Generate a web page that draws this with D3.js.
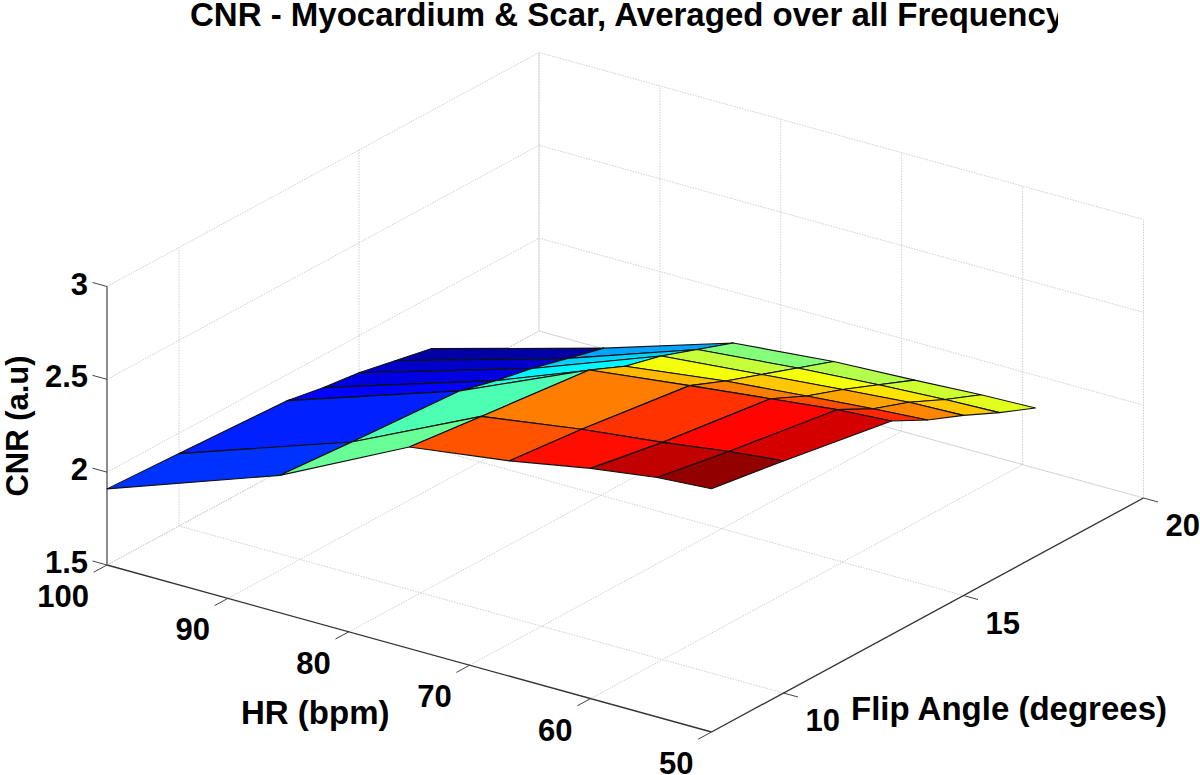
<!DOCTYPE html>
<html>
<head>
<meta charset="utf-8">
<title>CNR surface</title>
<script src="https://cdn.jsdelivr.net/npm/d3@7"></script>
<style>
    html, body { margin: 0; padding: 0; background: #fff; }
    svg { display: block; }
    text { font-family: "Liberation Sans", Arial, sans-serif; font-weight: bold; fill: #000; }
</style>
</head>
<body>
<div id="container"></div>
<script>
//surface grid, one row of cnr per heart rate
var heartRates = [100, 85.7, 75, 66.7, 60, 54.5, 50];
var flipAngles = [8, 10, 13, 14, 15, 16, 17];
var cnr = [
    [1.91, 1.89, 1.86, 1.825, 1.80, 1.76, 1.72],
    [2.24, 2.21, 2.17, 2.12, 2.08, 2.03, 1.98],
    [2.585, 2.54, 2.475, 2.39, 2.34, 2.27, 2.20],
    [2.66, 2.62, 2.54, 2.46, 2.39, 2.32, 2.25],
    [2.74, 2.67, 2.59, 2.50, 2.43, 2.35, 2.27],
    [2.79, 2.72, 2.63, 2.53, 2.46, 2.37, 2.29],
    [2.81, 2.75, 2.65, 2.55, 2.47, 2.38, 2.30]
];

//tick labels
var hrTicks = [100, 90, 80, 70, 60, 50];
var flipTicks = [10, 15, 20];
var zTicks = [1.5, 2, 2.5, 3];

var title = 'CNR - Myocardium & Scar, Averaged over all Frequency';

//Width and height
var w = 1200;
var h = 775;

//orthographic view: each data axis moves the pixel along its own screen direction
var originX = 107;
var originY = 565;
var hrToX = d3.scaleLinear().domain([100, 50]).range([0, 604.5]);
var hrToY = d3.scaleLinear().domain([100, 50]).range([0, 167]);
var flipToX = d3.scaleLinear().domain([8, 20]).range([0, 432]);
var flipToY = d3.scaleLinear().domain([8, 20]).range([0, -234]);
var zToY = d3.scaleLinear().domain([1.5, 3]).range([0, -278.5]);

function project(hr, flip, z) {
    return [
        originX + hrToX(hr) + flipToX(flip),
        originY + hrToY(hr) + flipToY(flip) + zToY(z)
    ];
}

//jet colormap stretched over the data range
var cnrRange = d3.extent(d3.merge(cnr));
var toUnit = d3.scaleLinear().domain(cnrRange).range([0, 1]);
var jet = d3.scaleLinear()
    .domain([0, 0.125, 0.375, 0.625, 0.875, 1])
    .range(['#000080', '#0000ff', '#00ffff', '#ffff00', '#ff0000', '#800000']);

var svg = d3.select('#container')
    .append('svg')
    .attr('width', w)
    .attr('height', h);

var line = d3.line();

//grid lines on the floor and the two back walls
var gridLines = [];
zTicks.forEach(function(z) {
    gridLines.push([project(100, 8, z), project(100, 20, z), project(50, 20, z)]);
});
hrTicks.forEach(function(hr) {
    gridLines.push([project(hr, 8, 1.5), project(hr, 20, 1.5), project(hr, 20, 3)]);
});
flipTicks.forEach(function(flip) {
    gridLines.push([project(50, flip, 1.5), project(100, flip, 1.5), project(100, flip, 3)]);
});

svg.append('g')
    .selectAll('path')
    .data(gridLines)
    .enter()
    .append('path')
    .attr('d', line)
    .attr('fill', 'none')
    .attr('stroke', '#cfcfcf')
    .attr('stroke-width', 1)
    .attr('stroke-dasharray', '1.5,1.2');

//axis lines
var axisLines = [
    [project(100, 8, 1.5), project(50, 8, 1.5)],
    [project(50, 8, 1.5), project(50, 20, 1.5)]
];
svg.append('g')
    .selectAll('path')
    .data(axisLines)
    .enter()
    .append('path')
    .attr('d', line)
    .attr('stroke', '#333')
    .attr('stroke-width', 1.3);

svg.append('path')
    .attr('d', line([project(100, 8, 1.5), project(100, 8, 3)]))
    .attr('stroke', '#808080')
    .attr('stroke-width', 1.8);

//tick marks
var tickLines = [];
hrTicks.forEach(function(hr) {
    tickLines.push([project(hr, 8, 1.5), project(hr, 7.63, 1.5)]);
});
flipTicks.forEach(function(flip) {
    tickLines.push([project(50, flip, 1.5), project(48.8, flip, 1.5)]);
});
zTicks.forEach(function(z) {
    tickLines.push([project(100, 8, z), project(101.2, 8, z)]);
});
svg.append('g')
    .selectAll('path')
    .data(tickLines)
    .enter()
    .append('path')
    .attr('d', line)
    .attr('stroke', '#444')
    .attr('stroke-width', 1);

//surface faces, back to front, flat coloured from the corner nearest the z axis
var faces = [];
heartRates.slice(0, -1).forEach(function(hr, i) {
    for (var j = flipAngles.length - 2; j >= 0; j--) {
        faces.push({
            value: cnr[i][j],
            corners: [
                project(heartRates[i], flipAngles[j], cnr[i][j]),
                project(heartRates[i + 1], flipAngles[j], cnr[i + 1][j]),
                project(heartRates[i + 1], flipAngles[j + 1], cnr[i + 1][j + 1]),
                project(heartRates[i], flipAngles[j + 1], cnr[i][j + 1])
            ]
        });
    }
});

svg.append('g')
    .selectAll('path')
    .data(faces)
    .enter()
    .append('path')
    .attr('d', function(d) {
        return line(d.corners) + 'Z';
    })
    .attr('fill', function(d) {
        return jet(toUnit(d.value));
    })
    .attr('stroke', '#111')
    .attr('stroke-width', 1.1)
    .attr('stroke-linejoin', 'round');

//tick labels
var tickFont = 31;
svg.append('g')
    .selectAll('text')
    .data(zTicks)
    .enter()
    .append('text')
    .attr('x', 88)
    .attr('y', function(d) {
        return project(100, 8, d)[1] + 8;
    })
    .attr('text-anchor', 'end')
    .style('font-size', tickFont + 'px')
    .text(function(d) {
        return d;
    });

svg.append('g')
    .selectAll('text')
    .data(hrTicks)
    .enter()
    .append('text')
    .attr('x', function(d) {
        return project(d, 8, 1.5)[0] - 18;
    })
    .attr('y', function(d) {
        return project(d, 8, 1.5)[1] + 42;
    })
    .attr('text-anchor', 'end')
    .style('font-size', tickFont + 'px')
    .text(function(d) {
        return d;
    });

svg.append('g')
    .selectAll('text')
    .data(flipTicks)
    .enter()
    .append('text')
    .attr('x', function(d) {
        return project(50, d, 1.5)[0] + 22;
    })
    .attr('y', function(d) {
        return project(50, d, 1.5)[1] + 38;
    })
    .style('font-size', tickFont + 'px')
    .text(function(d) {
        return d;
    });

//axis titles
svg.append('text')
    .attr('x', 241)
    .attr('y', 724)
    .style('font-size', '33px')
    .text('HR (bpm)');

svg.append('text')
    .attr('x', 851)
    .attr('y', 720)
    .style('font-size', '33px')
    .text('Flip Angle (degrees)');

svg.append('text')
    .attr('transform', 'translate(28,426) rotate(-90)')
    .attr('text-anchor', 'middle')
    .style('font-size', '31px')
    .text('CNR (a.u)');

//title is cut off on the right in the original
svg.append('clipPath')
    .attr('id', 'titleClip')
    .append('rect')
    .attr('x', 0)
    .attr('y', 0)
    .attr('width', 1058)
    .attr('height', 60);

svg.append('g')
    .attr('clip-path', 'url(#titleClip)')
    .append('text')
    .attr('x', 190)
    .attr('y', 26)
    .style('font-size', '33px')
    .text(title);
</script>
</body>
</html>
